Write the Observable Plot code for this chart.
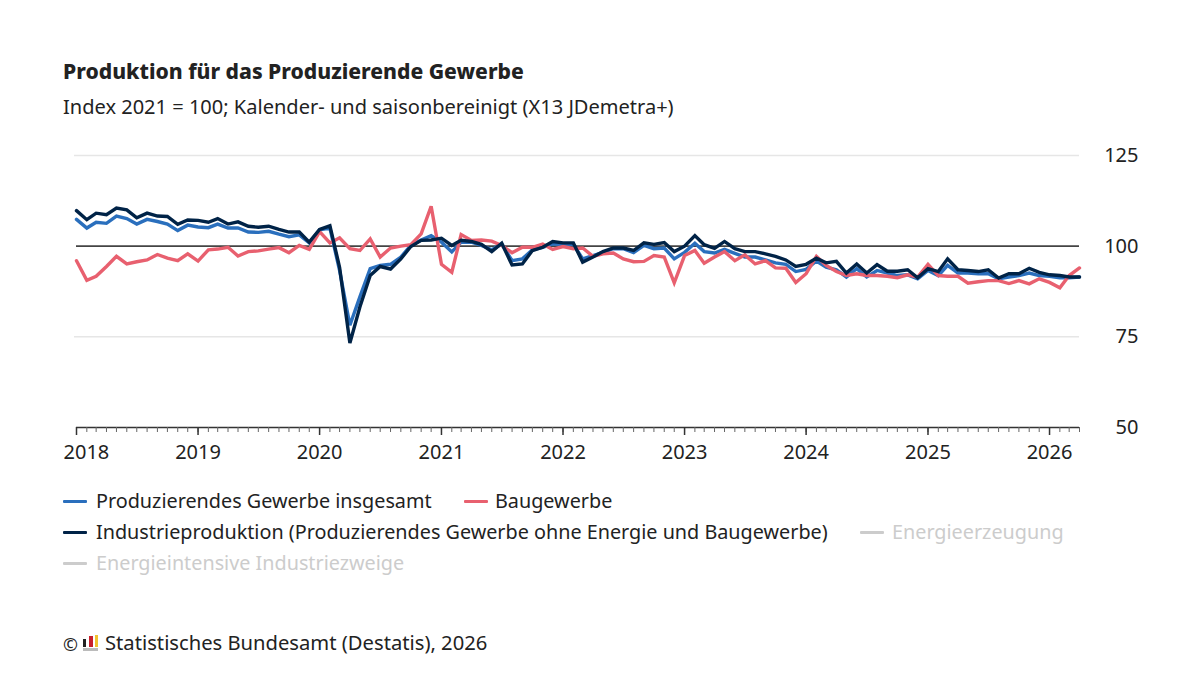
<!DOCTYPE html>
<html lang="de"><head><meta charset="utf-8">
<script src="https://cdn.jsdelivr.net/npm/d3@7"></script>
<script src="https://cdn.jsdelivr.net/npm/@observablehq/plot@0.6"></script>
<style>
html,body{margin:0;padding:0;background:#fff;width:1200px;height:675px;overflow:hidden;font-family:"Noto Sans",sans-serif;color:#222}
.abs{position:absolute;white-space:nowrap}
#title{left:63px;top:56px;font-size:21.1px;font-weight:800;line-height:30px}
#sub{left:63px;top:93px;font-size:20.05px;line-height:28px}
#chart{left:0;top:130px}
.leg{font-size:19.8px;line-height:30px}
.sw{position:absolute;height:3px;width:24px;border-radius:1px}
#foot{left:105px;top:627px;font-size:20.2px;line-height:30px}
#copy{left:63px;top:630px;font-size:18px;line-height:28px}
</style></head><body>
<div id="title" class="abs">Produktion für das Produzierende Gewerbe</div>
<div id="sub" class="abs">Index 2021 = 100; Kalender- und saisonbereinigt (X13 JDemetra+)</div>
<div id="chart" class="abs"></div>
<div id="legend"></div>
<div id="copy" class="abs">©</div>
<div id="logo"></div>
<div id="foot" class="abs">Statistisches Bundesamt (Destatis), 2026</div>
<script>
const gesamt = [107.4,105,106.6,106.3,108.3,107.6,106.1,107.4,106.8,106.1,104.3,105.8,105.3,105.1,106.1,105,105,103.9,103.8,104.1,103.3,102.6,103.1,100.9,104.5,105,93.3,78.2,86,93.8,94.7,95,97,100.2,101.7,102.9,101.1,98.4,101.1,101.1,100.2,99,100.6,96,96.5,99,99.7,100.6,100.5,100.5,96.5,97.4,98.3,99.3,99.3,98.2,100.2,99.3,99.5,96.5,98.3,100.8,98.5,98.1,99.1,98,97,97,96.2,95.4,95,93,93.6,95.9,94.2,93.5,91.5,93.8,91.5,93.3,92.6,91.9,92.1,91,93.3,91.9,94.7,92.6,92.6,92.4,92.4,91,91.5,91.9,92.6,91.9,91.7,91.3,91.3,91.5];
const bau = [96,90.6,91.7,94.4,97.2,95.1,95.7,96.2,97.7,96.7,96,97.9,95.9,99,99.2,99.7,97.3,98.5,98.7,99.2,99.6,98.2,100.2,99.1,104,100.9,102.3,99.3,98.8,102,97,99.5,100,100.4,103.4,111,95,92.8,103.2,101.6,101.7,101.4,100.2,98.2,99.7,99.7,100.6,99.1,99.9,99.3,99.5,97.2,97.9,98.1,96.5,95.7,95.8,97.4,97,89.9,97.4,98.8,95.3,97,98.5,96,97.6,95.1,96,94,93.9,90,92.4,97.2,94.7,93,91.9,92.4,91.9,91.9,91.7,91.3,92.1,91.5,95,91.9,91.7,91.7,89.8,90.2,90.5,90.5,89.7,90.5,89.6,91,90,88.5,91.9,94];
const industrie = [109.8,107.3,109.1,108.7,110.5,110,107.8,109.1,108.3,108.2,106,107.2,107.1,106.6,107.6,106.1,106.7,105.5,105.2,105.5,104.6,103.9,103.9,101.1,104.6,105.6,94.2,73.3,83.2,91.9,94.4,93.7,96.5,99.9,101.6,101.7,102.2,100.2,101.6,101.3,100.5,98.5,100.8,94.8,95.1,98.8,99.7,101.3,100.9,100.9,95.6,97,98.5,99.5,99.5,98.8,100.9,100.5,101,98.5,100,102.9,100.4,99.4,101.3,99.3,98.5,98.5,97.9,97.2,96.2,94.4,95,96.7,95.4,95.8,92.6,95.1,92.6,94.9,93.1,93.1,93.5,91.3,93.8,93,96.5,93.5,93.3,93,93.5,91.2,92.4,92.4,93.9,92.8,92.1,91.9,91.5,91.5];
const yTicks = [50,75,100,125];
const yearLabels = [2018,2019,2020,2021,2022,2023,2024,2025,2026];
const legendNames = ["Produzierendes Gewerbe insgesamt","Baugewerbe","Industrieproduktion (Produzierendes Gewerbe ohne Energie und Baugewerbe)","Energieerzeugung","Energieintensive Industriezweige"];
const legendColors = ["#2a6fbd","#e8606f","#002347","#cccccc","#cccccc"];

const months = d3.utcMonths(new Date(Date.UTC(2018,0,1)), new Date(Date.UTC(2026,4,1)));
const yearDates = yearLabels.map(y => new Date(Date.UTC(y,0,1)));
const rows = s => s.map((v,i) => ({date: months[i], value: v}));
const lineOpts = c => ({x:"date", y:"value", stroke:c, strokeWidth:3.4, strokeLinejoin:"miter", strokeMiterlimit:3});
const font = '"Noto Sans",sans-serif';

const plot = Plot.plot({
  width:1200, height:330,
  marginLeft:76, marginRight:121, marginTop:25, marginBottom:33,
  style:{fontFamily:font, background:"transparent", overflow:"visible"},
  x:{type:"utc", domain:[months[0], months[months.length-1]]},
  y:{type:"linear", domain:[50,125], axis:null},
  marks:[
    Plot.ruleY([75,125], {stroke:"#e6e6e6", strokeWidth:1.5, x1:months[0], x2:months[months.length-1], insetLeft:-2}),
    Plot.ruleY([100], {stroke:"#444", strokeWidth:1.6}),
    Plot.ruleY([50], {stroke:"#333", strokeWidth:1.6}),
    Plot.axisX({ticks:months, tickSize:5, tickFormat:()=>"", stroke:"#666", strokeWidth:1, label:null}),
    Plot.axisX({ticks:yearDates, tickSize:8, tickFormat:()=>"", stroke:"#333", strokeWidth:1.5, label:null}),
    Plot.text(yearDates.slice(1), {x:d=>d, frameAnchor:"bottom", dy:25, text:d=>String(d.getUTCFullYear()), fontSize:20, fill:"#222", textAnchor:"middle", lineAnchor:"middle"}),
    Plot.text(yearDates.slice(0,1), {x:d=>d, frameAnchor:"bottom", dy:25, dx:-13, text:d=>String(d.getUTCFullYear()), fontSize:20, fill:"#222", textAnchor:"start", lineAnchor:"middle"}),
    Plot.text(yTicks, {y:d=>d, frameAnchor:"right", dx:59, text:d=>String(d), fontSize:20, fill:"#222", textAnchor:"end"}),
    Plot.line(rows(gesamt), lineOpts(legendColors[0])),
    Plot.line(rows(bau), lineOpts(legendColors[1])),
    Plot.line(rows(industrie), lineOpts(legendColors[2]))
  ]
});
document.getElementById("chart").append(plot);

const legendPlaces = [[63,501,96],[464,501,495],[63,532,96],[860,532,892],[63,563,96]];
const legend = document.getElementById("legend");
legendNames.forEach((n,i)=>{
  const [x,y,tx] = legendPlaces[i];
  const sw = document.createElement("div");
  sw.className="sw"; sw.style.left=x+"px"; sw.style.top=(y-1)+"px"; sw.style.background=legendColors[i];
  const t = document.createElement("div");
  t.className="abs leg"; t.style.left=tx+"px"; t.style.top=(y-15)+"px";
  t.style.color = i>2 ? "#cccccc" : "#222"; t.textContent=n;
  legend.append(sw,t);
});
const logo = document.getElementById("logo");
[[83,639,3,8,"#222"],[89,636,4,11,"#c8202c"],[95,635,3,12,"#f2c230"],[83,648,15,3,"#bbb"]].forEach(([l,tp,w,h,c])=>{
  const d=document.createElement("div");
  d.className="abs"; d.style.cssText+=`left:${l}px;top:${tp}px;width:${w}px;height:${h}px;background:${c}`;
  logo.append(d);
});
</script>
</body></html>
